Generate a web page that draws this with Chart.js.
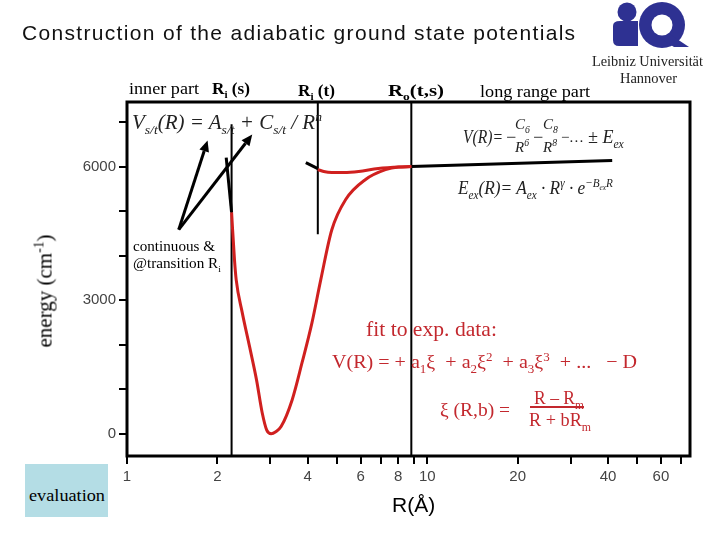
<!DOCTYPE html>
<html><head><meta charset="utf-8">
<script src="https://cdn.jsdelivr.net/npm/chart.js@4.4.1/dist/chart.umd.min.js"></script>
<style>
body{margin:0;background:#fff;}
#wrap{position:relative;width:720px;height:540px;overflow:hidden;background:#fff}
canvas{position:absolute;left:0;top:0}
.t{position:absolute;white-space:nowrap;line-height:1;transform-origin:0 50%}
.serif{font-family:"Liberation Serif","DejaVu Serif",serif}
.sans{font-family:"Liberation Sans",Arial,sans-serif}
.red{color:#c3282e}
.f{color:#222;font-style:italic}
sub,sup{font-size:65%;line-height:0}
</style></head>
<body><div id="wrap">
<canvas id="c" width="720" height="540"></canvas>
<svg style="position:absolute;left:0;top:0" width="720" height="60">
 <g fill="#2e3192">
  <circle cx="627" cy="12" r="9.5"/>
  <path d="M613 26 Q613 21 620 21 L638 21 L638 46 L619 46 Q613 46 613 40 Z"/>
  <circle cx="662" cy="25" r="23"/>
  <path d="M668 33 L689 47 L674 47 L660 38 Z"/>
 </g>
 <circle cx="662" cy="25" r="10.5" fill="#fff"/>
</svg>

<div class="t sans" id="title" data-ls="553" style="left:22px;top:22px;font-size:21px;color:#111">Construction of the adiabatic ground state potentials</div>
<div class="t serif" data-w="111" style="left:592px;top:55px;font-size:14px;color:#222">Leibniz Universität</div>
<div class="t serif" data-w="57" style="left:620px;top:72px;font-size:14px;color:#222">Hannover</div>

<div class="t serif" data-w="70" style="left:129px;top:81px;font-size:16px">inner part</div>
<div class="t serif" data-w="38" style="left:212px;top:81px;font-size:16px;font-weight:bold">R<sub>i</sub> (s)</div>
<div class="t serif" data-w="37" style="left:298px;top:83px;font-size:16px;font-weight:bold">R<sub>i</sub> (t)</div>
<div class="t serif" data-w="56" style="left:388px;top:83px;font-size:16px;font-weight:bold">R<sub>o</sub>(t,s)</div>
<div class="t serif" data-w="110" style="left:480px;top:84px;font-size:16px">long range part</div>

<div class="t serif f" data-w="190" style="left:132px;top:112px;font-size:20px">V<sub>s/t</sub>(R) = A<sub>s/t</sub> + C<sub>s/t</sub> / R<sup>n</sup></div>

<div class="t serif f" data-w="40" style="left:463px;top:128px;font-size:18px">V(R)=</div>
<div class="t serif f" style="left:505px;top:128px;font-size:18px">&#8722;</div>
<div class="t serif f" style="left:515px;top:117px;font-size:15px">C<sub>6</sub></div>
<div class="t serif f" style="left:515px;top:140px;font-size:15px">R<sup>6</sup></div>
<div class="t serif f" style="left:532px;top:128px;font-size:18px">&#8722;</div>
<div class="t serif f" style="left:543px;top:117px;font-size:15px">C<sub>8</sub></div>
<div class="t serif f" style="left:543px;top:140px;font-size:15px">R<sup>8</sup></div>
<div class="t serif f" style="left:560px;top:130px;font-size:15px">&#8722;&#8230;</div>
<div class="t serif f" style="left:588px;top:128px;font-size:18px">± E<sub>ex</sub></div>

<div class="t serif f" data-w="155" style="left:458px;top:178px;font-size:19px">E<sub>ex</sub>(R)= A<sub>ex</sub> · R<sup>γ</sup> · e<sup>&#8722;B<sub>ex</sub>R</sup></div>

<div class="t serif" data-w="82" style="left:133px;top:240px;font-size:14px">continuous &amp;</div>
<div class="t serif" data-w="88" style="left:133px;top:257px;font-size:14px">@transition R<sub>i</sub></div>

<div class="t serif red" data-w="131" style="left:366px;top:319px;font-size:21px">fit to exp. data:</div>
<div class="t serif red" data-w="305" style="left:332px;top:352px;font-size:19px">V(R) = + a<sub>1</sub>ξ&#160; + a<sub>2</sub>ξ<sup>2</sup>&#160; + a<sub>3</sub>ξ<sup>3</sup>&#160; + ...&#160;&#160; &#8722; D</div>
<div class="t serif red" data-w="70" style="left:440px;top:400px;font-size:19px">ξ (R,b) =</div>
<div class="t serif red" data-w="50" style="left:534px;top:388px;font-size:19px">R &#8211; R<sub>m</sub></div>
<div style="position:absolute;left:530px;top:406px;width:54px;height:2px;background:#c3282e"></div>
<div class="t serif red" data-w="62" style="left:529px;top:410px;font-size:19px">R + bR<sub>m</sub></div>

<div class="t serif" style="left:45px;top:291px;font-size:21px;transform-origin:50% 50%;transform:translate(-50%,-50%) rotate(-90deg)">energy (cm<sup>-1</sup>)</div>
<div class="t sans" style="left:392px;top:494px;font-size:21px">R(Å)</div>

<div style="position:absolute;left:25px;top:464px;width:83px;height:53px;background:#b4dde5"></div>
<div class="t serif" data-w="76" style="left:29px;top:488px;font-size:16px">evaluation</div>
</div>
<script>
// ---- data (R in Å, energy in cm^-1) ----
const singletR = [2.23, 2.28, 2.31, 2.42, 2.56, 2.70, 2.82, 2.92, 3.02, 3.13, 3.26, 3.55, 3.83, 4.13, 4.42, 4.81, 5.35, 6.23, 7.26, 8.02, 8.85];
const singletE = [4970, 3910, 3460, 2720, 1955, 1210, 470, 80, 0, 45, 160, 765, 1600, 2490, 3460, 4580, 5260, 5710, 5930, 5990, 6000];
const tripletR = [4.32, 4.52, 4.81, 5.28, 5.91, 6.87, 8.85];
const tripletE = [5933, 5888, 5865, 5865, 5888, 5955, 6000];
const singletInnerR = [2.14, 2.23];
const singletInnerE = [6200, 4970];
const tripletInnerR = [3.94, 4.32];
const tripletInnerE = [6090, 5955];
const longRangeR = [8.85, 41.3];
const longRangeE = [6000, 6135];
const boundaryR = [2.23, 4.32, 8.85];          // Ri(s), Ri(t), Ro(t,s)
const boundaryTopE = [6950, 7450, 7450];
const boundaryBottomE = [-500, 4480, -500];
const arrowTailR = [1.487, 1.487];
const arrowTailE = [4584, 4584];
const arrowTipR = [1.855, 2.613];
const arrowTipE = [6584, 6719];
const xTickValues = [1, 2, 3, 4, 5, 6, 7, 8, 9, 10, 20, 30, 40, 50, 60, 70];
const xTickLabels = [1, 2, 4, 6, 8, 10, 20, 40, 60];
const yTickValues = [0, 1000, 2000, 3000, 4000, 5000, 6000, 7000];
const yTickLabels = [0, 3000, 6000];

const RED = '#d0201f';
const pts = (xs, ys) => xs.map((x, i) => ({x: x, y: ys[i]}));
const datasets = [
  {data: pts(singletR, singletE), borderColor: RED, borderWidth: 3, cubicInterpolationMode: 'monotone'},
  {data: pts(tripletR, tripletE), borderColor: RED, borderWidth: 3, cubicInterpolationMode: 'monotone'},
  {data: pts(singletInnerR, singletInnerE), borderColor: '#000', borderWidth: 3},
  {data: pts(tripletInnerR, tripletInnerE), borderColor: '#000', borderWidth: 3},
  {data: pts(longRangeR, longRangeE), borderColor: '#000', borderWidth: 3}
];
boundaryR.forEach((r, i) => datasets.push({data: [{x: r, y: boundaryTopE[i]}, {x: r, y: boundaryBottomE[i]}], borderColor: '#000', borderWidth: 2}));

const framePlugin = {
  id: 'frame',
  afterDraw(chart) {
    const {ctx, chartArea: a} = chart;
    ctx.save();
    ctx.strokeStyle = '#000';
    ctx.lineWidth = 3;
    ctx.strokeRect(a.left, a.top, a.right - a.left, a.bottom - a.top);
    ctx.restore();
  }
};
const arrowPlugin = {
  id: 'arrows',
  afterDatasetsDraw(chart) {
    const {ctx, scales: {x, y}} = chart;
    ctx.save();
    ctx.strokeStyle = '#000'; ctx.fillStyle = '#000'; ctx.lineWidth = 3;
    arrowTipR.forEach((r, i) => {
      const x0 = x.getPixelForValue(arrowTailR[i]), y0 = y.getPixelForValue(arrowTailE[i]);
      const x1 = x.getPixelForValue(r), y1 = y.getPixelForValue(arrowTipE[i]);
      const ang = Math.atan2(y1 - y0, x1 - x0), L = 11, W = 5;
      const bx = x1 - L * Math.cos(ang), by = y1 - L * Math.sin(ang);
      ctx.beginPath(); ctx.moveTo(x0, y0); ctx.lineTo(bx, by); ctx.stroke();
      ctx.beginPath(); ctx.moveTo(x1, y1);
      ctx.lineTo(bx + W * Math.sin(ang), by - W * Math.cos(ang));
      ctx.lineTo(bx - W * Math.sin(ang), by + W * Math.cos(ang));
      ctx.closePath(); ctx.fill();
    });
    ctx.restore();
  }
};

new Chart(document.getElementById('c'), {
  type: 'line',
  data: {datasets: datasets},
  options: {
    responsive: false, animation: false, devicePixelRatio: 1,
    elements: {point: {radius: 0}, line: {fill: false}},
    plugins: {legend: {display: false}, tooltip: {enabled: false}, title: {display: false}},
    layout: {padding: {top: 102, right: 30, left: 0, bottom: 0}},
    scales: {
      x: {
        type: 'logarithmic', min: 1, max: 75,
        afterFit: s => { s.height = 84; },
        afterBuildTicks: s => { s.ticks = xTickValues.map(v => ({value: v, major: v === 1 || v === 10})); },
        border: {display: false},
        grid: {drawOnChartArea: false, drawTicks: true, tickLength: 8, color: '#000', lineWidth: 2},
        ticks: {autoSkip: false, maxRotation: 0, padding: 4, color: '#444',
          font: {family: 'Liberation Sans', size: 15},
          callback: v => xTickLabels.includes(v) ? String(v) : ''}
      },
      y: {
        type: 'linear', min: -500, max: 7450,
        afterFit: s => { s.width = 127; },
        afterBuildTicks: s => { s.ticks = yTickValues.map(v => ({value: v})); },
        border: {display: false},
        grid: {drawOnChartArea: false, drawTicks: true, tickLength: 8, color: '#000', lineWidth: 2},
        ticks: {padding: 3, color: '#444',
          font: {family: 'Liberation Sans', size: 15},
          callback: v => yTickLabels.includes(v) ? String(v) : ''}
      }
    }
  },
  plugins: [framePlugin, arrowPlugin]
});

// fit text widths to the reference
document.querySelectorAll('[data-w]').forEach(el => {
  const w = el.getBoundingClientRect().width;
  const target = +el.dataset.w;
  if (w > 0) el.style.transform = 'scaleX(' + (target / w).toFixed(3) + ')';
});
document.querySelectorAll('[data-ls]').forEach(el => {
  const w = el.getBoundingClientRect().width;
  const n = el.textContent.length;
  el.style.letterSpacing = ((+el.dataset.ls - w) / (n - 1)).toFixed(2) + 'px';
});
</script>
</body></html>
